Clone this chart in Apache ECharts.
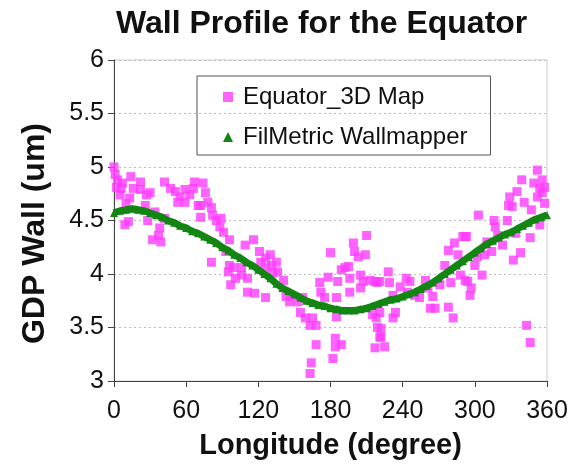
<!DOCTYPE html>
<html>
<head>
<meta charset="utf-8">
<script src="https://cdn.jsdelivr.net/npm/echarts@6/dist/echarts.min.js"></script>
<style>html,body{margin:0;padding:0;background:#fff}#c{width:571px;height:468px}</style>
</head>
<body>
<div id="c"></div>
<script>
var titleText = "Wall Profile for the Equator";
var xName = "Longitude (degree)";
var yName = "GDP Wall (um)";
var seriesNames = ["Equator_3D Map", "FilMetric Wallmapper"];
var xTicks = [0, 60, 120, 180, 240, 300, 360];
var yTicks = [3, 3.5, 4, 4.5, 5, 5.5, 6];

var eqDeg = [0,1,3,2,6,5,7,14,16,13,10,12,9,22,22,27,30,26,28,34,38,32,37,39,42,47,51,55,59,63,67,66,70,72,59,53,42,
74,76,72,78,81,82,85,89,88,91,96,81,93,96,95,99,97,101,106,106,109,111,111,116,117,121,122,126,130,131,135,136,132,126,141,143,146,126,
147,153,157,155,159,163,168,165,168,164,163,171,172,175,178,180,185,186,185,184,184,189,182,189,192,195,196,196,199,200,203,209,210,205,205,207,213,217,219,215,218,219,221,217,
221,222,222,225,221,228,229,232,232,234,238,243,246,244,250,254,259,261,263,265,267,271,275,278,280,282,278,283,286,288,290,293,294,296,
292,292,297,300,302,303,306,308,310,314,316,317,319,323,327,328,329,331,332,334,338,335,339,341,343,346,346,347,349,352,352,354,354,356,358,358,356];
var eqVal = [5.00,4.93,4.88,4.81,4.80,4.74,4.85,4.91,4.80,4.71,4.66,4.49,4.46,4.86,4.79,4.74,4.76,4.64,4.50,4.58,4.43,4.32,4.36,4.30,4.86,4.80,4.77,4.72,4.79,4.74,4.86,4.80,4.64,4.53,4.67,4.67,4.52,
4.85,4.76,4.64,4.67,4.62,4.55,4.50,4.52,4.44,4.39,4.32,4.11,4.21,4.08,4.02,4.06,3.90,3.96,4.06,3.99,4.27,3.96,3.83,4.32,3.82,4.21,4.11,4.15,4.18,4.08,4.11,4.02,4.01,3.78,3.94,3.79,3.74,4.06,
3.80,3.74,3.78,3.64,3.59,3.52,3.52,3.59,3.34,3.17,3.07,3.92,3.83,3.78,3.97,4.20,3.78,3.93,3.60,3.40,3.32,3.34,3.21,4.04,4.06,4.07,3.96,3.83,4.29,4.21,4.16,4.18,4.36,3.99,3.87,3.93,3.94,3.93,3.92,3.62,3.59,3.50,3.41,3.31,
3.64,3.49,3.41,3.32,3.93,4.02,3.92,3.80,3.59,3.64,3.88,3.96,3.93,3.83,3.80,3.78,3.94,3.87,3.68,3.79,3.68,3.90,4.08,3.69,3.92,3.59,4.22,4.29,4.18,3.99,4.35,4.35,3.93,3.80,
4.35,3.94,3.87,4.08,4.16,4.55,3.99,4.18,4.30,4.21,4.50,4.44,4.36,4.27,4.50,4.64,4.72,4.63,4.13,4.38,4.20,4.77,4.88,4.67,3.52,3.36,4.34,4.60,4.85,4.97,4.72,4.46,4.80,4.88,4.66,4.81,4.76];

var wmDeg = [0,5,10,15,20,25,30,35,40,45,50,55,60,65,70,75,80,85,90,95,100,105,110,115,120,125,130,135,140,145,150,155,160,165,170,175,180,185,190,195,200,205,210,215,220,225,230,235,240,245,250,255,260,265,270,275,280,285,290,295,300,305,310,315,320,325,330,335,340,345,350,355,360];
var wmVal = [4.57,4.59,4.60,4.61,4.60,4.59,4.57,4.55,4.53,4.50,4.48,4.45,4.43,4.40,4.38,4.35,4.32,4.29,4.25,4.22,4.18,4.15,4.11,4.08,4.04,4.00,3.96,3.91,3.87,3.84,3.81,3.78,3.75,3.73,3.71,3.70,3.68,3.67,3.66,3.66,3.66,3.67,3.68,3.70,3.72,3.74,3.76,3.77,3.79,3.81,3.83,3.86,3.89,3.92,3.96,4.00,4.04,4.08,4.12,4.16,4.20,4.24,4.28,4.31,4.34,4.37,4.39,4.42,4.45,4.48,4.51,4.53,4.55];

var eqData = eqDeg.map(function(d,i){return [d, eqVal[i]];});
var wmData = wmDeg.map(function(d,i){return [d, wmVal[i]];});

var font = "Liberation Sans, Arial, sans-serif";
var chart = echarts.init(document.getElementById('c'));
chart.setOption({
  animation: false,
  backgroundColor: '#fff',
  title: {
    text: titleText, left: 111, top: 3,
    textStyle: {fontFamily: font, fontSize: 32, fontWeight: 'bold', color: '#111'}
  },
  legend: {
    orient: 'vertical', left: 197, top: 76,
    padding: [9, 23, 6, 26],
    itemGap: 16, itemWidth: 10, itemHeight: 10,
    borderColor: '#555', borderWidth: 1,
    textStyle: {fontFamily: font, fontSize: 24, color: '#111', padding: [0,0,0,5]},
    data: [{name: seriesNames[0], icon: 'rect'}, {name: seriesNames[1], icon: 'triangle'}]
  },
  grid: {left: 114, right: 24, top: 60, bottom: 87, show: true, borderColor: '#ccc', borderWidth: 1},
  xAxis: {
    type: 'value', min: xTicks[0], max: xTicks[xTicks.length-1], interval: 60,
    name: xName, nameLocation: 'middle', nameGap: 50,
    nameTextStyle: {fontFamily: font, fontSize: 29, fontWeight: 'bold', color: '#111'},
    axisLine: {lineStyle: {color: '#444', width: 1}},
    axisTick: {length: 6, lineStyle: {color: '#444'}},
    axisLabel: {fontFamily: font, fontSize: 25, color: '#111', margin: 18},
    splitLine: {show: false}
  },
  yAxis: {
    type: 'value', min: yTicks[0], max: yTicks[yTicks.length-1], interval: 0.5,
    name: yName, nameLocation: 'middle', nameGap: 63,
    nameTextStyle: {fontFamily: font, fontSize: 32, fontWeight: 'bold', color: '#111', padding: [0, 26, 0, 0]},
    axisLine: {show: true, lineStyle: {color: '#444', width: 1}},
    axisTick: {show: true, length: 6, lineStyle: {color: '#444'}},
    axisLabel: {fontFamily: font, fontSize: 25, color: '#111', margin: 10},
    splitLine: {show: true, lineStyle: {color: '#bbb', type: [2, 3], width: 1}}
  },
  series: [
    {
      name: seriesNames[0], type: 'scatter', data: eqData,
      symbol: 'rect', symbolSize: 9,
      itemStyle: {color: '#ff3cff'}, z: 2
    },
    {
      name: seriesNames[1], type: 'line', data: wmData, smooth: true,
      symbol: 'triangle', symbolSize: 8, showSymbol: true,
      lineStyle: {color: '#138513', width: 7},
      itemStyle: {color: '#138513'}, z: 3
    }
  ]
});
</script>
</body>
</html>
